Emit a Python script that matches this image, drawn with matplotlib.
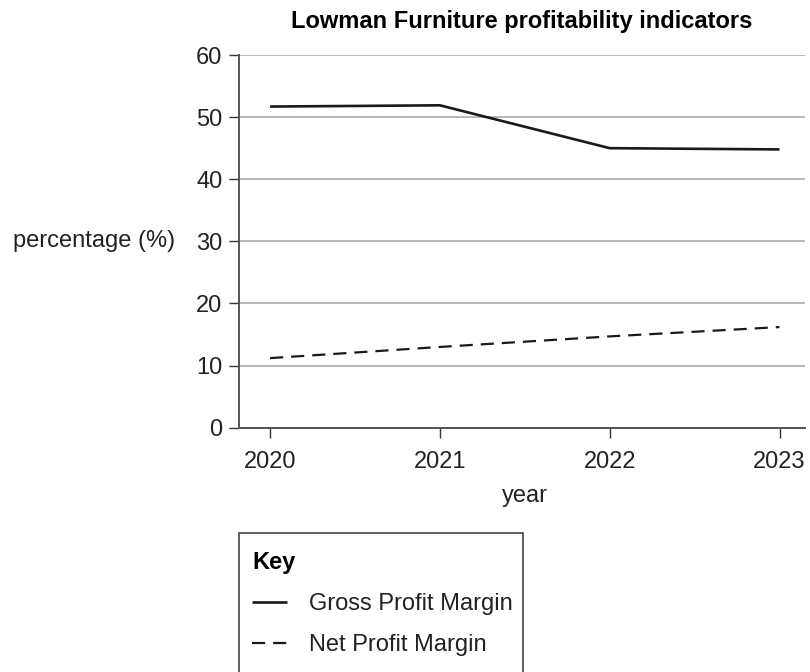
import matplotlib
matplotlib.use("Agg")
import matplotlib.pyplot as plt
from matplotlib.patches import Rectangle

plt.rcParams['font.family'] = ['Liberation Sans', 'DejaVu Sans']

years = [2020, 2021, 2022, 2023]
gross_profit_margin = [51.7, 51.9, 45.0, 44.8]
net_profit_margin = [11.2, 13.0, 14.7, 16.2]
y_ticks = [0, 10, 20, 30, 40, 50, 60]
title = "Lowman Furniture profitability indicators"

W, H = 810, 672
fig = plt.figure(figsize=(W / 100, H / 100), dpi=100)
left, right, bottom, top = 239, 805, 427.7, 55
ax = fig.add_axes([left / W, 1 - bottom / H, (right - left) / W, (bottom - top) / H])

fs = 17
l1, = ax.plot(years, gross_profit_margin, color='#1a1a1a', lw=1.9, solid_capstyle='butt',
              label='Gross Profit Margin')
l2, = ax.plot(years, net_profit_margin, color='#1a1a1a', lw=1.6, dashes=(5.9, 3.6),
              dash_capstyle='butt', label='Net Profit Margin')

ax.set_xlim(2019.817, 2023.15)
ax.set_ylim(0, 60)
ax.set_yticks(y_ticks)
ax.set_xticks(years)
ax.yaxis.grid(True, color='#aaaaaa', lw=1.2)
ax.set_axisbelow(True)
for s in ['top', 'right']:
    ax.spines[s].set_visible(False)
for s in ['left', 'bottom']:
    ax.spines[s].set_color('#555555')
    ax.spines[s].set_linewidth(1.4)
ax.tick_params(axis='both', direction='out', length=7, width=1, color='#333333',
               labelsize=fs, labelcolor='#222222')
ax.tick_params(axis='x', pad=10)
ax.tick_params(axis='y', pad=5)

ax.set_title(title, fontsize=fs, fontweight='bold', pad=19.5)
ax.set_ylabel('percentage (%)', rotation=0, ha='right', va='center', fontsize=fs, color='#222222')
ax.yaxis.set_label_coords((175 - left) / (right - left), (bottom - 241) / (bottom - top))
ax.set_xlabel('year', fontsize=fs, color='#222222', va='baseline')
ax.xaxis.set_label_coords((525 - left) / (right - left), (bottom - 502) / (bottom - top))

# Key box
fig.patches.append(Rectangle((239 / W, -0.1), (522.7 - 239) / W, 0.1 + 1 - 533.3 / H,
                             transform=fig.transFigure, fill=False, edgecolor='#444444',
                             lw=1.2, clip_on=False))
leg = fig.legend(handles=[l1, l2], labels=['Gross Profit Margin', 'Net Profit Margin'],
                 loc='upper left', bbox_to_anchor=(252 / W, 1 - 551 / H),
                 frameon=False, borderpad=0, borderaxespad=0, title='Key', alignment='left',
                 fontsize=fs, title_fontproperties={'weight': 'bold', 'size': fs},
                 handlelength=1.5, handletextpad=0.9, labelspacing=0.81)
for t in leg.get_texts():
    t.set_color('#222222')

fig.savefig('out.png', dpi=100)
